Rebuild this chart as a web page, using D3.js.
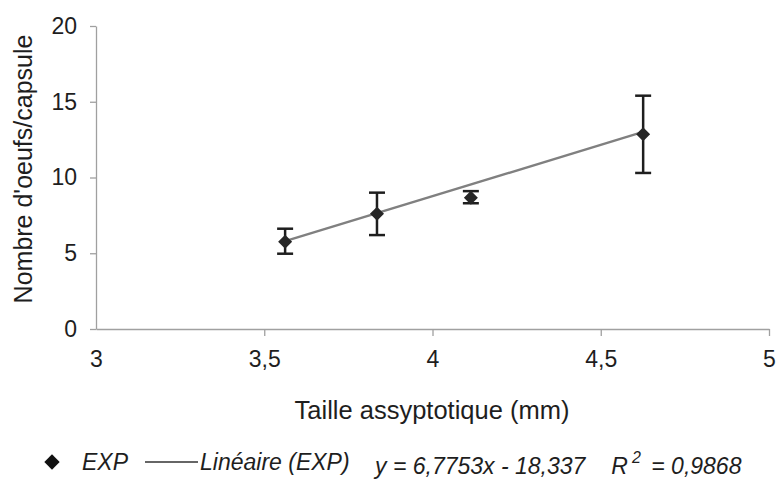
<!DOCTYPE html>
<html>
<head>
<meta charset="utf-8">
<script src="https://cdn.jsdelivr.net/npm/d3@7"></script>
<style>
body { margin: 0; background: #fff; }
svg { font-family: "Liberation Sans", Arial, sans-serif; }
</style>
</head>
<body>
<svg id="chart" width="778" height="492"></svg>
<script>
// data
const sizes = [3.562, 3.835, 4.114, 4.626];
const eggs = [5.76, 7.6, 8.67, 12.85];
const errHigh = [6.62, 9.0, 9.1, 15.4];
const errLow = [4.97, 6.2, 8.3, 10.3];
const xTicks = [3, 3.5, 4, 4.5, 5];
const yTicks = [0, 5, 10, 15, 20];
const slope = 6.7753, intercept = -18.337, r2 = "0,9868";

const svg = d3.select("#chart");
const x = d3.scaleLinear().domain([3, 5]).range([96, 769]);
const y = d3.scaleLinear().domain([0, 20]).range([329, 26]);
const fmt = d => String(d).replace(".", ",");
const axisColor = "#a0a0a0";
const ink = "#1e1e1e";

// axes
let gx = svg.append("g").attr("transform", "translate(0," + y(0) + ")")
    .call(d3.axisBottom(x).tickValues(xTicks).tickFormat(fmt).tickSize(7).tickSizeOuter(0).tickPadding(15));
let gy = svg.append("g").attr("transform", "translate(" + x(3) + ",0)")
    .call(d3.axisLeft(y).tickValues(yTicks).tickSize(6).tickSizeOuter(0).tickPadding(13));
[gx, gy].forEach(g => {
    g.select(".domain").attr("stroke", axisColor).attr("stroke-width", 1.3);
    g.selectAll(".tick line").attr("stroke", axisColor).attr("stroke-width", 1.3);
    g.selectAll(".tick text").attr("fill", ink).style("font-size", "23px");
});
gx.selectAll(".tick").filter(d => d === 3).select("line").remove();

// axis titles
svg.append("text").attr("x", 432).attr("y", 419).attr("text-anchor", "middle")
    .attr("fill", ink).style("font-size", "25.5px").text("Taille assyptotique (mm)");
svg.append("text").attr("transform", "translate(32,169) rotate(-90)").attr("text-anchor", "middle")
    .attr("fill", ink).style("font-size", "25px").text("Nombre d'oeufs/capsule");

// trend line
const xs = d3.extent(sizes);
svg.append("line")
    .attr("x1", x(xs[0])).attr("y1", y(slope * xs[0] + intercept))
    .attr("x2", x(xs[1])).attr("y2", y(slope * xs[1] + intercept))
    .attr("stroke", "#808080").attr("stroke-width", 2.4);

// error bars
const pts = sizes.map((s, i) => ({s, m: eggs[i], hi: errHigh[i], lo: errLow[i]}));
const eb = svg.append("g").attr("stroke", ink).attr("stroke-width", 2.5);
eb.selectAll(".v").data(pts).enter().append("line")
    .attr("x1", d => x(d.s)).attr("x2", d => x(d.s))
    .attr("y1", d => y(d.hi)).attr("y2", d => y(d.lo));
eb.selectAll(".t").data(pts).enter().append("line")
    .attr("x1", d => x(d.s) - 8).attr("x2", d => x(d.s) + 8)
    .attr("y1", d => y(d.hi)).attr("y2", d => y(d.hi));
eb.selectAll(".b").data(pts).enter().append("line")
    .attr("x1", d => x(d.s) - 8).attr("x2", d => x(d.s) + 8)
    .attr("y1", d => y(d.lo)).attr("y2", d => y(d.lo));

// markers
const diamond = d3.symbol().type(d3.symbolDiamond2).size(125);
svg.selectAll(".pt").data(pts).enter().append("path")
    .attr("d", diamond)
    .attr("transform", d => "translate(" + x(d.s) + "," + y(d.m) + ")")
    .attr("fill", "#262626");

// legend
const lg = svg.append("g").style("font-size", "23px").style("font-style", "italic").attr("fill", ink);
lg.append("path").attr("d", d3.symbol().type(d3.symbolDiamond2).size(150))
    .attr("transform", "translate(52,462)").attr("fill", "#111");
lg.append("text").attr("x", 82).attr("y", 470).text("EXP");
lg.append("line").attr("x1", 145).attr("x2", 198).attr("y1", 462).attr("y2", 462)
    .attr("stroke", "#333").attr("stroke-width", 1.6);
lg.append("text").attr("x", 200).attr("y", 470).text("Linéaire (EXP)");
const eq = lg.append("text").attr("x", 375).attr("y", 474)
    .text("y = " + fmt(slope) + "x - " + fmt(-intercept));
const rx = 375 + eq.node().getComputedTextLength() + 26;
const rt = lg.append("text").attr("x", rx).attr("y", 474);
rt.append("tspan").text("R");
rt.append("tspan").attr("dx", 4).attr("dy", -11).style("font-size", "16px").text("2");
rt.append("tspan").attr("dx", 4).attr("dy", 11).text(" = " + r2);
</script>
</body>
</html>
